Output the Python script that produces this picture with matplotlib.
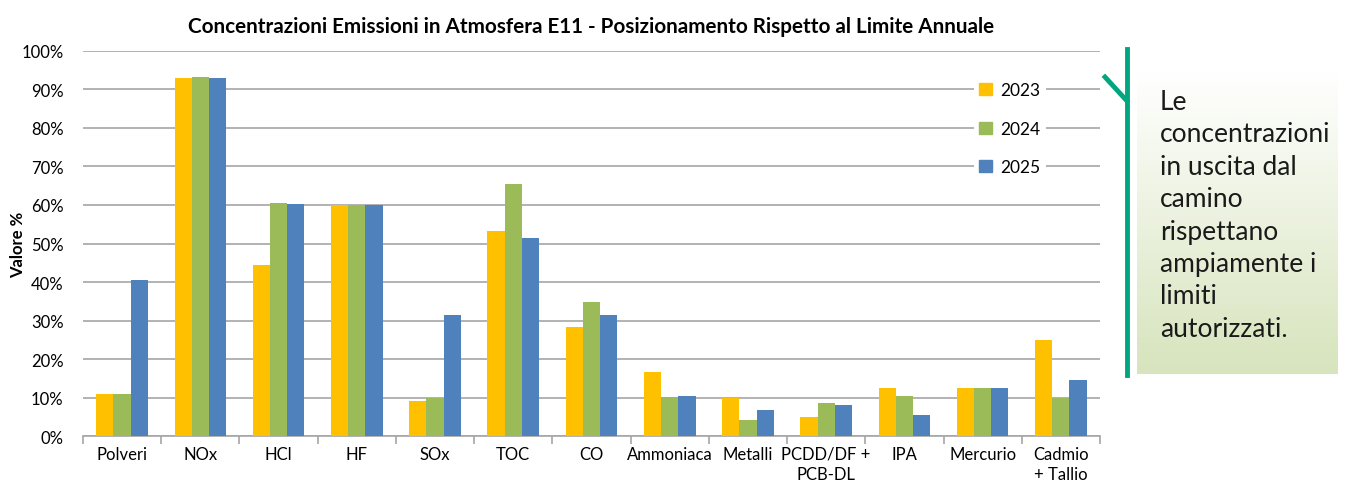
import matplotlib.pyplot as plt
import numpy as np
from matplotlib.patches import Patch

plt.rcParams['font.family'] = ['Lato', 'DejaVu Sans']

categorie = ['Polveri', 'NOx', 'HCl', 'HF', 'SOx', 'TOC', 'CO', 'Ammoniaca', 'Metalli',
             'PCDD/DF +\nPCB-DL', 'IPA', 'Mercurio', 'Cadmio\n+ Tallio']
v2023 = [11.0, 93.0, 44.5, 60.0, 9.0, 53.3, 28.3, 16.6, 9.8, 4.9, 12.5, 12.5, 25.0]
v2024 = [11.0, 93.2, 60.6, 60.0, 9.9, 65.4, 34.7, 10.1, 4.2, 8.6, 10.5, 12.5, 10.0]
v2025 = [40.5, 93.0, 60.3, 60.0, 31.4, 51.3, 31.4, 10.4, 6.8, 8.0, 5.5, 12.5, 14.6]
anni = ['2023', '2024', '2025']
colori = ['#ffc000', '#9bbb59', '#4f81bd']

fig = plt.figure(figsize=(13.47, 4.89), dpi=100)
ax = fig.add_axes([0.0616, 0.1063, 0.755, 0.7874])

x = np.arange(len(categorie))
w = 0.22
for i, (vals, c) in enumerate(zip([v2023, v2024, v2025], colori)):
    ax.bar(x + (i - 1) * w, vals, width=w, color=c, zorder=3)

ax.set_xlim(-0.5, len(categorie) - 0.5)
ax.set_ylim(0, 100)
ax.set_yticks(np.arange(0, 101, 10))
ax.set_yticklabels(['%d%%' % t for t in range(0, 101, 10)], fontsize=12)
ax.set_xticks(x)
ax.set_xticklabels(categorie, fontsize=12, linespacing=1.3)
ax.set_xticks(np.arange(-0.5, len(categorie), 1), minor=True)
ax.tick_params(axis='x', which='major', length=0, pad=7)
ax.tick_params(axis='x', which='minor', length=6, color='#a6a6a6', width=1.2)
ax.tick_params(axis='y', length=0, pad=14)
for s in ['top', 'right', 'left']:
    ax.spines[s].set_visible(False)
ax.spines['bottom'].set_color('#a6a6a6')
ax.spines['bottom'].set_linewidth(1.2)
ax.yaxis.grid(True, color='#a6a6a6', linewidth=1.2, zorder=0)
ax.set_axisbelow(True)
ax.set_ylabel('Valore %', fontsize=12, fontweight='bold')
ax.yaxis.set_label_coords(-0.056, 0.5)
ax.set_title('Concentrazioni Emissioni in Atmosfera E11 - Posizionamento Rispetto al Limite Annuale',
             fontsize=14.9, fontweight='bold', pad=14)

handles = [Patch(color=c) for c in colori]
leg = ax.legend(handles, anni, loc='upper right', bbox_to_anchor=(0.955, 0.955), frameon=True,
                fontsize=12.5, handlelength=0.7, handleheight=0.7, labelspacing=1.3,
                handletextpad=0.5, borderpad=0.3, framealpha=1)
leg.get_frame().set_edgecolor('white')
leg.get_frame().set_linewidth(0)

# riquadro di commento a destra
bx = fig.add_axes([1137 / 1347, 1 - 375 / 489, (1338 - 1137) / 1347, (375 - 73) / 489])
grad = np.linspace(0, 1, 256).reshape(-1, 1)
top = np.array([1.0, 1.0, 1.0])
bot = np.array([0xd7, 0xe4, 0xbd]) / 255
img = top + (bot - top) * grad[:, :, None]
bx.imshow(img, aspect='auto', extent=[0, 1, 0, 1], origin='upper')
bx.axis('off')
fig.text(1160 / 1347, 1 - 90 / 489,
         'Le\nconcentrazioni\nin uscita dal\ncamino\nrispettano\nampiamente i\nlimiti\nautorizzati.',
         fontsize=19, va='top', ha='left', linespacing=1.37, color='#1a1a1a')

fig.add_artist(plt.Line2D([1127 / 1347, 1127 / 1347], [1 - 50 / 489, 1 - 376 / 489],
                          color='#00a77e', linewidth=3.5, transform=fig.transFigure))
fig.add_artist(plt.Line2D([1105 / 1347, 1127 / 1347], [1 - 78 / 489, 1 - 102 / 489],
                          color='#00a77e', linewidth=3.5, transform=fig.transFigure))

fig.savefig('out.png', dpi=100)
